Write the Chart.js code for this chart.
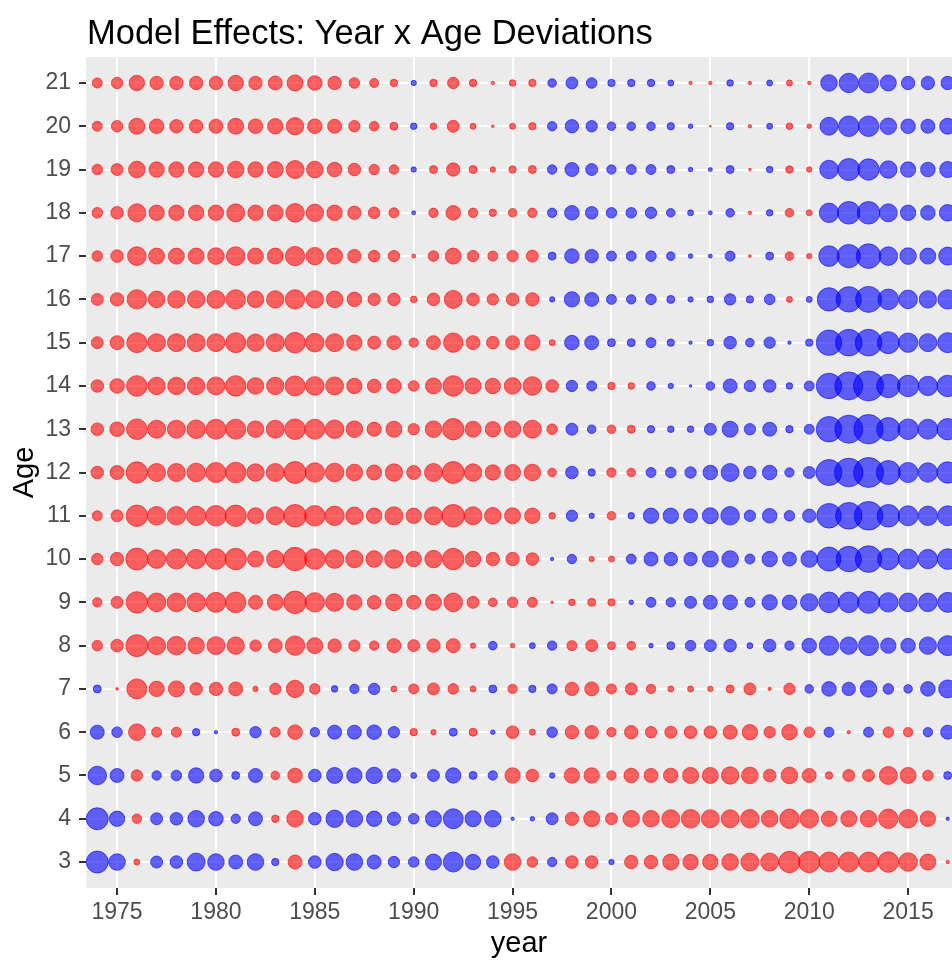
<!DOCTYPE html>
<html>
<head>
<meta charset="utf-8">
<script src="https://cdn.jsdelivr.net/npm/chart.js@4.4.0/dist/chart.umd.min.js"></script>
<style>
  html, body { margin: 0; padding: 0; background: #ffffff; overflow: hidden; }
  #chart { display: block; }
</style>
</head>
<body>
<canvas id="chart" width="952" height="964"></canvas>
<script>
// ── Datos: desviación año x edad (signo = color, magnitud = tamaño) ───────────
const years = [1974, 1975, 1976, 1977, 1978, 1979, 1980, 1981, 1982, 1983, 1984,
               1985, 1986, 1987, 1988, 1989, 1990, 1991, 1992, 1993, 1994, 1995,
               1996, 1997, 1998, 1999, 2000, 2001, 2002, 2003, 2004, 2005, 2006,
               2007, 2008, 2009, 2010, 2011, 2012, 2013, 2014, 2015, 2016, 2017];
const ages = [3, 4, 5, 6, 7, 8, 9, 10, 11, 12, 13, 14, 15, 16, 17, 18, 19, 20, 21];
const yearTicks = [1975, 1980, 1985, 1990, 1995, 2000, 2005, 2010, 2015];

const age21 = [5, 5.7, 7.7, 6.7, 6.7, 6.7, 6.7, 7.7, 6.7, 7, 8, 7.3, 6.7, 5.3, 4.5,
  3.7, -2.7, 3.7, 5.7, 3.7, 1.7, 3.3, 3.7, -4.3, -6, -5.3, -3.7, -3.7, -3.7,
  -3, 1.7, 1.7, -3.3, 1.7, -3, 3, 1.7, -8.3, -9.7, -10, -8, -6.7, -6.7, -6.7];
const age20 = [5, 5.7, 8, 7.3, 6.7, 6.7, 7, 8, 7.3, 7.7, 8.7, 7.3, 7, 5.7, 4.8,
  4, -3.3, 3.3, 6, 3, 1.3, 3, 3.7, -4.7, -6.7, -5.7, -4.3, -4.3, -4.3,
  -3.7, -2.3, 1, -3.7, 1.7, -3, 3.3, 2.3, -9, -10.3, -10.3, -8.3, -7.3, -7, -8];
const age19 = [5.3, 6, 8.3, 7.7, 7.7, 7.7, 7.7, 8.3, 7.7, 8, 9, 8.3, 7.3, 6.3, 5.2,
  4.7, -2.7, 4, 6.7, 4, 2.7, 3.7, 4, -4.7, -7, -6, -4.7, -5, -5,
  -4, -2.3, -2, -4, 1.3, -3.3, 3.7, 2.7, -9.3, -11, -10.7, -8.7, -7.7, -7.3, -8];
const age18 = [5.3, 6.3, 9, 7.7, 7.7, 7.7, 7.7, 9, 7.7, 8, 9.3, 8.7, 7.7, 6.7, 5.8,
  5, -2, 4.7, 7.3, 4.7, 3.7, 4.3, 4.7, -4.7, -7.3, -6.3, -5.3, -5.3, -5.7,
  -4.3, -3, -2, -4.3, 1.7, -3.3, 4.3, 3, -9.7, -11.3, -11.3, -9, -7.7, -7.3, -8.3];
const age17 = [5.3, 6.3, 9.3, 8, 8, 8, 8.3, 9.3, 8, 8, 9.7, 8.7, 8, 6.7, 5.8,
  5.7, 2, 5.3, 8, 5.7, 5, 5.7, 6, -4, -7.3, -6.7, -5, -5, -5.3,
  -4.3, -2.3, -2, -5, 1.3, -4, 4.3, 2.7, -10.3, -11.7, -12.3, -9.3, -8.3, -8, -9];
const age16 = [6, 6.7, 9.7, 8.3, 8.7, 8.7, 9, 9.7, 8.3, 8.7, 9.7, 8.7, 8.3, 7.3, 6.2,
  6.3, 3.3, 6.3, 9, 6.3, 5.7, 6.3, 6.7, -2.7, -7.7, -7, -5, -4.7, -5.3,
  -4, -2.7, -3.3, -5.7, -3.7, -5.3, 3, -3, -11.7, -12.7, -13, -10.3, -9.3, -8.7, -9.7];
const age15 = [6, 7, 10, 9, 9, 9, 9, 10, 8.7, 9, 10.3, 9.3, 9, 7.7, 6.5,
  7, 4.7, 7, 9.7, 7, 6.3, 7, 7.7, 3, -7.3, -7, -4, -4, -5,
  -3.7, -1.7, -3.3, -6.3, -4.3, -5.7, -1.7, -3.7, -12.7, -13.3, -13.3, -11, -9.7, -9, -10];
const age14 = [6.3, 7.3, 10.3, 8.7, 8.7, 8.7, 9, 10.3, 8.3, 8.7, 10, 9.3, 9, 7.7, 6.8,
  7.3, 5.3, 8, 10.3, 8, 7.7, 8.3, 9.3, 6.3, -5.7, -5, 3.7, 3.3, -4.3,
  -2.7, -1.3, -4.3, -7, -5.7, -6.3, -3.3, -5, -12.7, -14, -15, -11.7, -10.7, -9.7, -10.7];
const age13 = [6.3, 7.3, 10.3, 9, 9, 9.3, 10, 10, 8.3, 9, 10.3, 10, 9.3, 8.3, 7.1,
  8, 5.7, 8.3, 10.7, 8, 7.7, 8.3, 9, 5.3, -6, -4.3, 4.3, 4, -3.7,
  -3.3, -3.3, -6, -8, -5.7, -7, -3.7, -5, -12.7, -14, -14.7, -11.7, -10.3, -10, -10.7];
const age12 = [6.3, 7, 10.7, 9, 9, 9.3, 10, 10.3, 8.7, 9, 11, 9.7, 9.3, 8.3, 7.5,
  8.7, 7, 9, 11, 8.7, 7.7, 8, 8.3, 4.3, -6.3, -3.7, 4.7, 4.3, -5,
  -5.3, -5.7, -7.3, -9, -6.3, -7.3, -4.7, -6, -13, -14.3, -15, -12, -10, -9.7, -10.7];
const age11 = [5, 6, 10.7, 9.3, 9.3, 9.7, 10.3, 10.7, 8, 9, 11.3, 10.3, 9.7, 8.7, 7.8,
  9, 7.7, 9, 11.3, 9, 8.3, 8, 7.7, 3.3, -5.7, -2.7, 4.3, -3.3, -7.7,
  -7.7, -7, -8, -9.3, -5.7, -7.3, -5.3, -6.7, -12.3, -13.3, -14.3, -11.3, -10, -9.7, -10];
const age10 = [5.7, 6.7, 11, 9.3, 10, 9.7, 10.3, 10.7, 8, 8.7, 11.7, 10.3, 9.3, 8.7, 8.3,
  9.3, 7.7, 8.7, 10.7, 7.7, 6.7, 6.7, 6.3, -1.7, -4.7, 2.7, 3, -5, -7,
  -6.7, -6.7, -8, -8.3, -5, -7.7, -7, -8.3, -12, -12.7, -13.3, -10.7, -10, -9.7, -10.3];
const age9 = [4.7, 6, 10.7, 9.3, 9.3, 9.3, 10, 10.3, 7, 8, 11.3, 9.7, 9, 7.7, 6.8,
  8.3, 7, 8, 9.3, 6, 4.3, 5.3, 5, 1.3, 3.3, 4, 3.7, -2.3, -5,
  -4.7, -6, -7, -7.3, -5, -7.7, -7.3, -8.7, -10.3, -10.3, -11, -9.7, -9.3, -9.3, -10];
const age8 = [5.3, 6.3, 11, 9, 9.3, 8.3, 9, 8.7, 5.7, 7, 9.7, 8, 6.7, 5.7, 4.7,
  7, 6, 6.7, 7, 2.7, -4.3, 2.3, -3, -4.7, 5, 6, 4, 4.3, -2.3,
  -4, -5.3, -6, -6.3, -3, -6.3, -4.7, -7.3, -9.7, -8.7, -10, -7.7, -7.3, -8.7, -10];
const age7 = [-4, 1.3, 10, 7.7, 8, 6.3, 6.7, 7, 2.7, 5.7, 8.7, 5.3, -3.3, -4.7, -5.7,
  3, 5, 6, 5.3, 3, -4, 4.7, -3.7, -5, 6.7, 7, 5, 6, 4.7,
  3, 3, 2.7, 4, 6, 1.7, 5.7, -4.3, -7.3, -6.7, -8.3, -5.3, -4.3, -7.3, -9];
const age6 = [-7, -5.3, 8.3, 5, 5, -3.7, -1.7, 4, -5.7, 5, 7.3, -4.7, -7, -7, -7.3,
  -5.7, 3.7, 2.7, -4, 4, -2.3, 6.3, 3, -5.3, 6.7, 6.7, 4.7, 6.7, 5.7,
  6, 6.3, 6.3, 7, 7.7, 5.7, 7.7, 5.3, -5, 1.7, -5, 5.3, 4.7, -4.7, -7];
const age5 = [-9.3, -7, 5.7, -4.7, -5.3, -7.7, -6.3, -4, -7, 4.3, 7.3, -6.3, -8, -7.7, -8.2,
  -6.7, -3, -6, -7.7, -4, -4.7, 7.7, 6.3, -2.7, 7.7, 7.7, 4.7, 7.3, 7,
  7.3, 8, 8, 8.7, 8.3, 6.3, 8.3, 7, 3.7, 6, 6, 9, 8, 5.3, -4];
const age4 = [-11, -7.7, 4.7, -6, -6.3, -8.3, -7.3, -4.7, -7, 3.7, 8.3, -6.3, -8.7, -8.3, -7.7,
  -6.7, -5.3, -8, -10, -8, -8.3, -1.7, -2.3, -6, 6.7, 8, 6, 8.3, 8.3,
  9, 9.3, 9, 9, 9.3, 8.3, 9.7, 9.3, 7.7, 8, 8.3, 9.7, 9.3, 7.7, -1.7];
const age3 = [-11, -8.3, 3, -6, -6.3, -9, -8.3, -7, -8.3, -3.7, 7, -6.3, -8.7, -8.3, -7,
  -5.7, -5.3, -8, -10, -7.7, -6.3, 8.3, 5.3, -4.7, 6.3, 6.3, -2.7, 6.7, 6.7,
  8, 7.7, 7.7, 8.3, 9, 9, 10.7, 10.7, 10, 10, 10, 10.3, 9.3, 8, 1.7];

const rows = [age3, age4, age5, age6, age7, age8, age9, age10, age11, age12, age13,
              age14, age15, age16, age17, age18, age19, age20, age21];

// ── Estilo ───────────────────────────────────────────────────────────────────
const FONT = '"Liberation Sans", Arial, sans-serif';
const POS_FILL = 'rgba(255,0,0,0.6)';
const NEG_FILL = 'rgba(0,0,255,0.6)';

const puntos = [];
ages.forEach((age, i) => {
    rows[i].forEach((v, j) => {
        puntos.push({ x: years[j], y: age, v: v });
    });
});

// fondo gris del panel + textos de títulos
const panelPlugin = {
    id: 'panel',
    beforeDraw(chart) {
        const { ctx, chartArea: a } = chart;
        ctx.save();
        ctx.fillStyle = '#ffffff';
        ctx.fillRect(0, 0, chart.width, chart.height);
        ctx.fillStyle = '#EBEBEB';
        ctx.fillRect(a.left, a.top, a.right - a.left, a.bottom - a.top);
        ctx.restore();
    },
    afterDraw(chart) {
        const { ctx, chartArea: a } = chart;
        ctx.save();
        ctx.fillStyle = '#000000';
        ctx.textBaseline = 'alphabetic';
        ctx.font = `34.5px ${FONT}`;
        ctx.textAlign = 'left';
        ctx.fillText('Model Effects: Year x Age Deviations', 87, 44);

        ctx.font = `29px ${FONT}`;
        ctx.textAlign = 'center';
        ctx.fillText('year', (a.left + a.right) / 2, 952);

        ctx.translate(33, (a.top + a.bottom) / 2);
        ctx.rotate(-Math.PI / 2);
        ctx.fillText('Age', 0, 0);
        ctx.restore();
    }
};

// los ejes no reservan margen extra para las etiquetas de los extremos
function fijarX(s) {
    s.height = 76;
    s.paddingLeft = 0;
    s.paddingRight = 0;
}
function fijarY(s) {
    s.width = 86;
    s.paddingTop = 0;
    s.paddingBottom = 0;
}

new Chart(document.getElementById('chart'), {
    type: 'scatter',
    data: {
        datasets: [{
            data: puntos,
            pointRadius: c => Math.abs(c.raw.v),
            pointBackgroundColor: c => c.raw.v >= 0 ? POS_FILL : NEG_FILL,
            pointBorderColor: c => c.raw.v >= 0 ? POS_FILL : NEG_FILL,
            pointBorderWidth: 1,
            clip: 0,
        }]
    },
    options: {
        responsive: false,
        animation: false,
        events: [],
        layout: { autoPadding: false, padding: { top: 57, left: 0, right: 0, bottom: 0 } },
        plugins: { legend: { display: false }, tooltip: { enabled: false } },
        scales: {
            x: {
                type: 'linear',
                min: 1973.43,
                max: 2017.22,
                afterBuildTicks: s => { s.ticks = yearTicks.map(v => ({ value: v })); },
                afterFit: fijarX,
                border: { display: false },
                grid: { color: '#FFFFFF', lineWidth: 2, tickLength: 7, tickColor: '#333333', tickWidth: 2 },
                ticks: { font: { family: FONT, size: 23 }, color: '#4D4D4D', padding: 4, maxRotation: 0,
                         callback: v => String(v) }
            },
            y: {
                type: 'linear',
                min: 2.4,
                max: 21.6,
                afterBuildTicks: s => { s.ticks = ages.map(v => ({ value: v })); },
                afterFit: fijarY,
                border: { display: false },
                grid: { color: '#FFFFFF', lineWidth: 2, tickLength: 7, tickColor: '#333333', tickWidth: 2 },
                ticks: { font: { family: FONT, size: 23 }, color: '#4D4D4D', padding: 8,
                         callback: v => String(v) }
            }
        }
    },
    plugins: [panelPlugin]
});
</script>
</body>
</html>
